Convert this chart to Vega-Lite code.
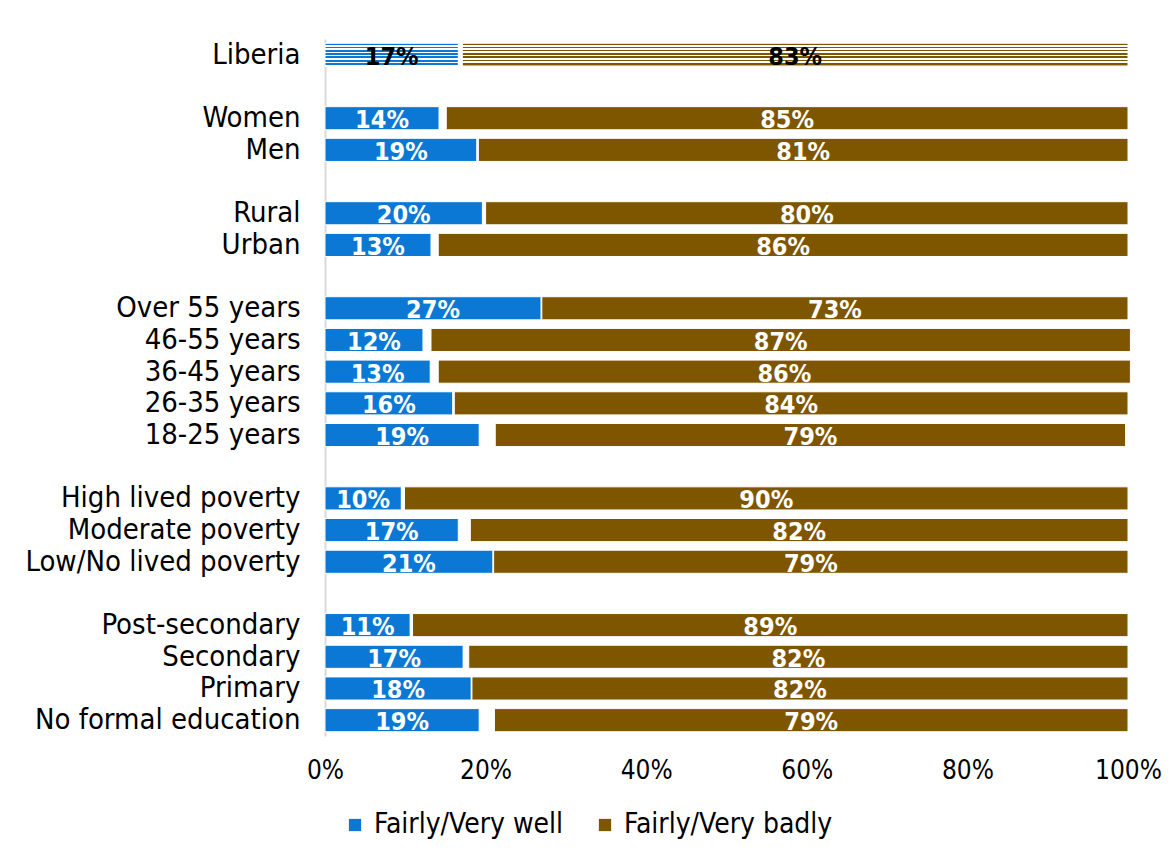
{
  "$schema": "https://vega.github.io/schema/vega-lite/v6.json",
  "autosize": {"type": "none"},
  "width": 803,
  "height": 697,
  "padding": {"left": 325, "top": 39, "right": 40, "bottom": 119},
  "background": "white",
  "config": {
    "view": {"stroke": null},
    "font": "DejaVu Sans Condensed"
  },
  "data": {
    "values": [
      {"cat": "Liberia", "seg": "Fairly/Very well", "o": 1, "v": 16.6, "lab": "17%"},
      {"cat": "Liberia", "seg": "gap", "o": 2, "v": 0.5, "lab": ""},
      {"cat": "Liberia", "seg": "Fairly/Very badly", "o": 3, "v": 82.9, "lab": "83%"},
      {"cat": "Women", "seg": "Fairly/Very well", "o": 1, "v": 14.2, "lab": "14%"},
      {"cat": "Women", "seg": "gap", "o": 2, "v": 0.9, "lab": ""},
      {"cat": "Women", "seg": "Fairly/Very badly", "o": 3, "v": 84.9, "lab": "85%"},
      {"cat": "Men", "seg": "Fairly/Very well", "o": 1, "v": 18.9, "lab": "19%"},
      {"cat": "Men", "seg": "gap", "o": 2, "v": 0.2, "lab": ""},
      {"cat": "Men", "seg": "Fairly/Very badly", "o": 3, "v": 80.9, "lab": "81%"},
      {"cat": "Rural", "seg": "Fairly/Very well", "o": 1, "v": 19.6, "lab": "20%"},
      {"cat": "Rural", "seg": "gap", "o": 2, "v": 0.4, "lab": ""},
      {"cat": "Rural", "seg": "Fairly/Very badly", "o": 3, "v": 80.0, "lab": "80%"},
      {"cat": "Urban", "seg": "Fairly/Very well", "o": 1, "v": 13.2, "lab": "13%"},
      {"cat": "Urban", "seg": "gap", "o": 2, "v": 0.9, "lab": ""},
      {"cat": "Urban", "seg": "Fairly/Very badly", "o": 3, "v": 85.9, "lab": "86%"},
      {"cat": "Over 55 years", "seg": "Fairly/Very well", "o": 1, "v": 26.9, "lab": "27%"},
      {"cat": "Over 55 years", "seg": "gap", "o": 2, "v": 0.1, "lab": ""},
      {"cat": "Over 55 years", "seg": "Fairly/Very badly", "o": 3, "v": 73.0, "lab": "73%"},
      {"cat": "46-55 years", "seg": "Fairly/Very well", "o": 1, "v": 12.2, "lab": "12%"},
      {"cat": "46-55 years", "seg": "gap", "o": 2, "v": 1.0, "lab": ""},
      {"cat": "46-55 years", "seg": "Fairly/Very badly", "o": 3, "v": 87.1, "lab": "87%"},
      {"cat": "36-45 years", "seg": "Fairly/Very well", "o": 1, "v": 13.1, "lab": "13%"},
      {"cat": "36-45 years", "seg": "gap", "o": 2, "v": 1.0, "lab": ""},
      {"cat": "36-45 years", "seg": "Fairly/Very badly", "o": 3, "v": 86.2, "lab": "86%"},
      {"cat": "26-35 years", "seg": "Fairly/Very well", "o": 1, "v": 15.9, "lab": "16%"},
      {"cat": "26-35 years", "seg": "gap", "o": 2, "v": 0.2, "lab": ""},
      {"cat": "26-35 years", "seg": "Fairly/Very badly", "o": 3, "v": 83.9, "lab": "84%"},
      {"cat": "18-25 years", "seg": "Fairly/Very well", "o": 1, "v": 19.2, "lab": "19%"},
      {"cat": "18-25 years", "seg": "gap", "o": 2, "v": 2.0, "lab": ""},
      {"cat": "18-25 years", "seg": "Fairly/Very badly", "o": 3, "v": 78.5, "lab": "79%"},
      {"cat": "High lived poverty", "seg": "Fairly/Very well", "o": 1, "v": 9.5, "lab": "10%"},
      {"cat": "High lived poverty", "seg": "gap", "o": 2, "v": 0.4, "lab": ""},
      {"cat": "High lived poverty", "seg": "Fairly/Very badly", "o": 3, "v": 90.1, "lab": "90%"},
      {"cat": "Moderate poverty", "seg": "Fairly/Very well", "o": 1, "v": 16.6, "lab": "17%"},
      {"cat": "Moderate poverty", "seg": "gap", "o": 2, "v": 1.5, "lab": ""},
      {"cat": "Moderate poverty", "seg": "Fairly/Very badly", "o": 3, "v": 81.9, "lab": "82%"},
      {"cat": "Low/No lived poverty", "seg": "Fairly/Very well", "o": 1, "v": 20.9, "lab": "21%"},
      {"cat": "Low/No lived poverty", "seg": "gap", "o": 2, "v": 0.1, "lab": ""},
      {"cat": "Low/No lived poverty", "seg": "Fairly/Very badly", "o": 3, "v": 79.0, "lab": "79%"},
      {"cat": "Post-secondary", "seg": "Fairly/Very well", "o": 1, "v": 10.6, "lab": "11%"},
      {"cat": "Post-secondary", "seg": "gap", "o": 2, "v": 0.3, "lab": ""},
      {"cat": "Post-secondary", "seg": "Fairly/Very badly", "o": 3, "v": 89.1, "lab": "89%"},
      {"cat": "Secondary", "seg": "Fairly/Very well", "o": 1, "v": 17.2, "lab": "17%"},
      {"cat": "Secondary", "seg": "gap", "o": 2, "v": 0.7, "lab": ""},
      {"cat": "Secondary", "seg": "Fairly/Very badly", "o": 3, "v": 82.1, "lab": "82%"},
      {"cat": "Primary", "seg": "Fairly/Very well", "o": 1, "v": 18.2, "lab": "18%"},
      {"cat": "Primary", "seg": "gap", "o": 2, "v": 0.1, "lab": ""},
      {"cat": "Primary", "seg": "Fairly/Very badly", "o": 3, "v": 81.7, "lab": "82%"},
      {"cat": "No formal education", "seg": "Fairly/Very well", "o": 1, "v": 19.2, "lab": "19%"},
      {"cat": "No formal education", "seg": "gap", "o": 2, "v": 1.9, "lab": ""},
      {"cat": "No formal education", "seg": "Fairly/Very badly", "o": 3, "v": 78.9, "lab": "79%"}
    ]
  },
  "transform": [
    {"stack": "v", "groupby": ["cat"], "sort": [{"field": "o"}], "as": ["x0", "x1"]}
  ],
  "encoding": {
    "y": {
      "field": "cat",
      "type": "nominal",
      "scale": {
        "domain": ["Liberia", "gap1", "Women", "Men", "gap2", "Rural", "Urban", "gap3", "Over 55 years", "46-55 years", "36-45 years", "26-35 years", "18-25 years", "gap4", "High lived poverty", "Moderate poverty", "Low/No lived poverty", "gap5", "Post-secondary", "Secondary", "Primary", "No formal education"],
        "paddingInner": 0.27,
        "paddingOuter": 0.135
      },
      "axis": {
        "title": null,
        "ticks": false,
        "domainColor": "#D9D9D9",
        "domainWidth": 2,
        "labelFontSize": 29,
        "labelColor": "#000000",
        "labelPadding": 25,
        "labelLimit": 400,
        "labelFont": "DejaVu Sans Condensed",
        "labelExpr": "indexof(datum.value, 'gap') == 0 ? '' : datum.value"
      }
    }
  },
  "layer": [
    {
      "transform": [{"filter": "datum.cat != 'Liberia' && datum.seg != 'gap'"}],
      "mark": {"type": "bar", "stroke": "white", "strokeWidth": 1},
      "encoding": {
        "x": {
          "field": "x0",
          "type": "quantitative",
          "scale": {"domain": [0, 100], "nice": false},
          "axis": {
            "title": null,
            "values": [0, 20, 40, 60, 80, 100],
            "labelExpr": "datum.value + '%'",
            "labelFlush": false,
            "domain": false,
            "ticks": false,
            "grid": false,
            "labelFontSize": 26,
            "labelColor": "#000000",
            "labelPadding": 21,
            "labelFont": "DejaVu Sans Condensed"
          }
        },
        "x2": {"field": "x1"},
        "color": {
          "field": "seg",
          "type": "nominal",
          "scale": {
            "domain": ["Fairly/Very well", "Fairly/Very badly"],
            "range": ["#0A78D4", "#7F5600"]
          },
          "legend": {
            "title": null,
            "orient": "none",
            "direction": "horizontal",
            "legendX": 16,
            "legendY": 772,
            "symbolType": "square",
            "symbolSize": 150,
            "symbolStrokeWidth": 0,
            "labelFontSize": 28,
            "labelColor": "#000000",
            "labelFont": "DejaVu Sans Condensed",
            "labelOffset": 5,
            "columnPadding": 27,
            "labelLimit": 400
          }
        }
      }
    },
    {
      "transform": [{"filter": "datum.cat == 'Liberia' && datum.seg == 'Fairly/Very well'"}],
      "mark": {"type": "bar", "stroke": "white", "strokeWidth": 1,
        "color": {"gradient": "linear", "x1": 0, "y1": 0, "x2": 0, "y2": 1, "stops": [
          {"offset": 0, "color": "#0A78D4"}, {"offset": 0.0786, "color": "#0A78D4"},
          {"offset": 0.0786, "color": "#FFFFFF"}, {"offset": 0.1429, "color": "#FFFFFF"},
          {"offset": 0.1429, "color": "#0A78D4"}, {"offset": 0.2214, "color": "#0A78D4"},
          {"offset": 0.2214, "color": "#FFFFFF"}, {"offset": 0.2857, "color": "#FFFFFF"},
          {"offset": 0.2857, "color": "#0A78D4"}, {"offset": 0.3643, "color": "#0A78D4"},
          {"offset": 0.3643, "color": "#FFFFFF"}, {"offset": 0.4286, "color": "#FFFFFF"},
          {"offset": 0.4286, "color": "#0A78D4"}, {"offset": 0.5071, "color": "#0A78D4"},
          {"offset": 0.5071, "color": "#FFFFFF"}, {"offset": 0.5714, "color": "#FFFFFF"},
          {"offset": 0.5714, "color": "#0A78D4"}, {"offset": 0.65, "color": "#0A78D4"},
          {"offset": 0.65, "color": "#FFFFFF"}, {"offset": 0.7143, "color": "#FFFFFF"},
          {"offset": 0.7143, "color": "#0A78D4"}, {"offset": 0.7929, "color": "#0A78D4"},
          {"offset": 0.7929, "color": "#FFFFFF"}, {"offset": 0.8571, "color": "#FFFFFF"},
          {"offset": 0.8571, "color": "#0A78D4"}, {"offset": 0.9357, "color": "#0A78D4"},
          {"offset": 0.9357, "color": "#FFFFFF"}, {"offset": 1, "color": "#FFFFFF"}
        ]}
      },
      "encoding": {
        "x": {"field": "x0", "type": "quantitative"},
        "x2": {"field": "x1"}
      }
    },
    {
      "transform": [{"filter": "datum.cat == 'Liberia' && datum.seg == 'Fairly/Very badly'"}],
      "mark": {"type": "bar", "stroke": "white", "strokeWidth": 1,
        "color": {"gradient": "linear", "x1": 0, "y1": 0, "x2": 0, "y2": 1, "stops": [
          {"offset": 0, "color": "#7F5600"}, {"offset": 0.0643, "color": "#7F5600"},
          {"offset": 0.0643, "color": "#FFFFFF"}, {"offset": 0.1429, "color": "#FFFFFF"},
          {"offset": 0.1429, "color": "#7F5600"}, {"offset": 0.2071, "color": "#7F5600"},
          {"offset": 0.2071, "color": "#FFFFFF"}, {"offset": 0.2857, "color": "#FFFFFF"},
          {"offset": 0.2857, "color": "#7F5600"}, {"offset": 0.35, "color": "#7F5600"},
          {"offset": 0.35, "color": "#FFFFFF"}, {"offset": 0.4286, "color": "#FFFFFF"},
          {"offset": 0.4286, "color": "#7F5600"}, {"offset": 0.4929, "color": "#7F5600"},
          {"offset": 0.4929, "color": "#FFFFFF"}, {"offset": 0.5714, "color": "#FFFFFF"},
          {"offset": 0.5714, "color": "#7F5600"}, {"offset": 0.6357, "color": "#7F5600"},
          {"offset": 0.6357, "color": "#FFFFFF"}, {"offset": 0.7143, "color": "#FFFFFF"},
          {"offset": 0.7143, "color": "#7F5600"}, {"offset": 0.7786, "color": "#7F5600"},
          {"offset": 0.7786, "color": "#FFFFFF"}, {"offset": 0.8571, "color": "#FFFFFF"},
          {"offset": 0.8571, "color": "#7F5600"}, {"offset": 0.9214, "color": "#7F5600"},
          {"offset": 0.9214, "color": "#FFFFFF"}, {"offset": 1, "color": "#7F5600"}
        ]}
      },
      "encoding": {
        "x": {"field": "x0", "type": "quantitative"},
        "x2": {"field": "x1"}
      }
    },
    {
      "transform": [
        {"filter": "datum.lab != ''"},
        {"calculate": "(datum.x0 + datum.x1) / 2", "as": "mid"}
      ],
      "mark": {"type": "text", "fontWeight": "bold", "fontSize": 25, "font": "DejaVu Sans Condensed", "baseline": "middle", "dy": 2},
      "encoding": {
        "x": {"field": "mid", "type": "quantitative"},
        "text": {"field": "lab"},
        "color": {"condition": {"test": "datum.cat === 'Liberia'", "value": "#000000"}, "value": "#FFFFFF"}
      }
    }
  ]
}
